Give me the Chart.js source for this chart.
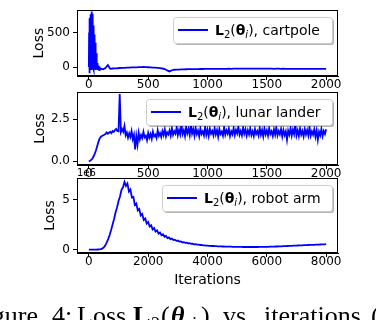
<!DOCTYPE html>
<html>
<head>
<meta charset="utf-8">
<script src="https://cdn.jsdelivr.net/npm/chart.js@4.4.1/dist/chart.umd.min.js"></script>
<style>
  html, body { margin: 0; padding: 0; background: #fff; }
  #lienzo { position: relative; width: 376px; height: 320px; overflow: hidden; }
  #lienzo canvas { position: absolute; left: 0; top: 0; }
  .cap { position: absolute; top: 303px; font-family: "Liberation Serif", serif; font-size: 26px; line-height: 26px; white-space: nowrap; color: #000; }
  .cap.sub { font-size: 18px; top: 311px; }
</style>
</head>
<body>
<div id="lienzo">
  <canvas id="c1" width="376" height="320"></canvas>
  <canvas id="c2" width="376" height="320"></canvas>
  <canvas id="c3" width="376" height="320"></canvas>
  <span class="cap" style="right:338px">Figure</span>
  <span class="cap" style="left:52px">4:</span>
  <span class="cap" style="left:77px">Loss</span>
  <span class="cap" style="left:133px"><b>L</b></span>
  <span class="cap sub" style="left:151px">2</span>
  <span class="cap" style="left:161px">(</span>
  <span class="cap" style="left:171px"><b><i>θ</i></b></span>
  <span class="cap sub" style="left:191px"><i>i</i></span>
  <span class="cap" style="left:201px">)</span>
  <span class="cap" style="left:223px">vs.</span>
  <span class="cap" style="left:264px">iterations</span>
  <span class="cap" style="left:371px">(</span>
</div>
<script>
// Pérdida de cartpole, iteraciones 0..98 cada 2
const cartpoleInicio = [
  0, 500, -90, 700, -50, 710, -20, 690, 30, 760,
  -30, 790, 60, 800, -10, 770, 120, 700, 0, 600,
  -30, 540, 40, 470, -20, 420, 60, 350, -40, 260,
  30, 200, -30, 120, -20, 60, 30, -40, 40, -30,
  20, -35, 10, -30, -5, -35, 5, -30, -10, -25
];
// Pérdida de cartpole, iteraciones 100..2000 cada 20
const cartpoleResto = [
  -20, -32, -12, 30, -24, -20, -17, -16, -13, -12,
  -10, -8, -7, -5, -4, -3, -1, 1, 2, 0,
  -2, -4, -6, -8, -11, -15, -20, -28, -48, -62,
  -45, -38, -36, -35, -33, -32, -31, -30, -30, -29,
  -28, -28, -27, -27, -26, -26, -25, -26, -25, -24,
  -25, -24, -24, -25, -23, -24, -23, -22, -23, -22,
  -22, -23, -21, -22, -22, -21, -22, -23, -22, -22,
  -23, -22, -23, -24, -23, -22, -24, -23, -24, -25,
  -24, -25, -24, -26, -25, -24, -25, -26, -25, -24,
  -25, -26, -25, -24, -25, -24
];
// Pérdida de lunar lander, iteraciones 0..2000 cada 10
const lunarLander = [
  0.00, 0.03, 0.08, 0.17, 0.30, 0.46, 0.66, 0.90, 1.14, 1.35,
  1.45, 1.50, 1.55, 1.58, 1.62, 1.72, 1.64, 1.70, 1.76, 1.67,
  1.80, 1.75, 1.86, 1.92, 1.80, 1.78, 4.00, 1.74, 1.92, 1.76,
  2.10, 1.55, 1.72, 1.40, 1.66, 1.45, 1.80, 1.32, 1.58, 0.70,
  1.50, 1.00, 1.70, 1.30, 1.56, 1.38, 1.75, 1.42, 1.52, 1.25,
  1.68, 1.40, 1.62, 1.34, 1.76, 1.48, 1.58, 1.38, 1.85, 1.52,
  1.68, 1.44, 1.80, 1.56, 1.90, 1.48, 1.72, 1.60, 1.84, 1.52,
  1.96, 1.58, 1.78, 1.64, 2.02, 1.55, 1.86, 1.60, 2.22, 1.62,
  1.84, 1.50, 2.06, 1.66, 1.92, 1.56, 2.20, 1.64, 1.90, 1.52,
  2.00, 1.62, 1.82, 1.48, 1.96, 1.62, 1.78, 1.54, 2.04, 1.58,
  1.88, 1.50, 1.94, 1.64, 1.80, 1.54, 1.98, 1.60, 1.86, 1.46,
  1.92, 1.62, 1.76, 1.52, 2.02, 1.58, 1.84, 1.64, 1.95, 1.50,
  1.78, 1.60, 1.97, 1.55, 1.86, 1.66, 2.06, 1.58, 1.80, 1.54,
  2.00, 1.64, 1.90, 1.52, 1.84, 1.60, 1.96, 1.55, 1.78, 1.50,
  1.92, 1.62, 1.80, 1.54, 1.98, 1.58, 1.86, 1.48, 1.95, 1.60,
  1.84, 1.52, 1.96, 1.62, 1.78, 1.50, 1.90, 1.58, 2.02, 1.54,
  1.80, 1.60, 1.92, 1.48, 1.86, 1.56, 1.78, 1.28, 1.82, 1.58,
  1.96, 1.52, 1.88, 1.62, 2.18, 1.54, 1.84, 1.50, 1.95, 1.58,
  1.80, 1.48, 1.92, 1.60, 1.86, 1.54, 2.02, 1.52, 1.78, 1.58,
  1.90, 1.46, 1.84, 1.28, 1.76, 1.54, 1.92, 1.50, 1.80, 1.62,
  1.90
];
// Pérdida de robot arm (x1e6), iteraciones 0..8000 cada 50
const robotArm = [
  0, 0, 0, 0, 0, 0, 0.01, 0.02, 0.05, 0.10,
  0.20, 0.40, 0.70, 1.05, 1.45, 1.95, 2.50, 3.05, 3.70, 4.20,
  4.85, 5.30, 5.95, 6.20, 6.75, 6.35, 6.60, 5.80, 6.00, 5.20,
  5.25, 4.45, 4.60, 3.90, 4.05, 3.40, 3.55, 2.95, 3.10, 2.60,
  2.75, 2.30, 2.42, 2.02, 2.15, 1.80, 1.92, 1.60, 1.70, 1.43,
  1.52, 1.28, 1.36, 1.15, 1.22, 1.04, 1.10, 0.95, 0.99, 0.87,
  0.90, 0.80, 0.82, 0.73, 0.75, 0.67, 0.69, 0.62, 0.63, 0.57,
  0.58, 0.53, 0.54, 0.49, 0.50, 0.46, 0.46, 0.43, 0.43, 0.40,
  0.40, 0.38, 0.38, 0.36, 0.36, 0.34, 0.34, 0.33, 0.33, 0.32,
  0.31, 0.31, 0.30, 0.30, 0.29, 0.29, 0.29, 0.28, 0.28, 0.28,
  0.27, 0.27, 0.27, 0.27, 0.26, 0.26, 0.26, 0.26, 0.26, 0.26,
  0.26, 0.26, 0.26, 0.26, 0.26, 0.27, 0.27, 0.27, 0.27, 0.28,
  0.28, 0.28, 0.29, 0.29, 0.30, 0.30, 0.31, 0.31, 0.32, 0.33,
  0.33, 0.34, 0.35, 0.35, 0.36, 0.37, 0.38, 0.38, 0.39, 0.40,
  0.40, 0.41, 0.42, 0.43, 0.43, 0.44, 0.45, 0.45, 0.46, 0.47,
  0.47, 0.48, 0.48, 0.49, 0.50, 0.50, 0.51, 0.52, 0.52, 0.53,
  0.54
];

// Marcas de los ejes
const ticksX1 = [0, 500, 1000, 1500, 2000];
const ticksX3 = [0, 2000, 4000, 6000, 8000];
const ticksY1 = [0, 500];
const ticksY2 = [0, 2.5];
const ticksY3 = [0, 5];
const nombres = ['cartpole', 'lunar lander', 'robot arm'];

Chart.defaults.font.family = '"DejaVu Sans"';
Chart.defaults.color = '#000';

// Convierte una lista de valores en puntos {x, y}
function puntos(valores, inicio, paso) {
  return valores.map((v, i) => ({ x: inicio + i * paso, y: v }));
}

// Dibuja una etiqueta tipo mathtext: L2(θi), nombre
function dibujarEtiqueta(ctx, x, y, nombre) {
  const partes = [
    { t: 'L', f: 'bold 14px "DejaVu Sans"', dy: 0 },
    { t: '2', f: '10px "DejaVu Sans"', dy: 3 },
    { t: '(', f: '14px "DejaVu Sans"', dy: 0 },
    { t: 'θ', f: 'bold 14px "DejaVu Sans"', dy: 0 },
    { t: 'i', f: 'italic 10px "DejaVu Sans"', dy: 3 },
    { t: ')', f: '14px "DejaVu Sans"', dy: 0 },
    { t: ', ' + nombre, f: '14px "DejaVu Sans"', dy: 0 }
  ];
  ctx.textBaseline = 'alphabetic';
  ctx.textAlign = 'left';
  ctx.fillStyle = '#000';
  partes.forEach(p => {
    ctx.font = p.f;
    ctx.fillText(p.t, x, y + p.dy);
    x += ctx.measureText(p.t).width;
  });
}

// Marco completo, leyenda con sombra y texto de desplazamiento
const marcoPlugin = {
  id: 'marco',
  afterDraw(chart, args, opts) {
    const { ctx, chartArea: a } = chart;
    ctx.save();
    ctx.strokeStyle = '#000';
    ctx.lineWidth = 1;
    ctx.strokeRect(Math.round(a.left) + 0.5, Math.round(a.top) + 0.5,
      Math.round(a.right - a.left) - 1, Math.round(a.bottom - a.top) - 1);

    const bx = opts.leyendaX, by = Math.round(a.top) + 7, bw = Math.round(a.right) - 6 - opts.leyendaX, bh = 26;
    ctx.fillStyle = 'rgba(0,0,0,0.3)';
    ctx.beginPath();
    ctx.roundRect(bx + 2, by + 2, bw, bh, 3);
    ctx.fill();
    ctx.fillStyle = '#fff';
    ctx.strokeStyle = '#cccccc';
    ctx.beginPath();
    ctx.roundRect(bx + 0.5, by + 0.5, bw, bh, 3);
    ctx.fill();
    ctx.stroke();

    ctx.strokeStyle = '#0000ff';
    ctx.lineWidth = 2;
    ctx.beginPath();
    ctx.moveTo(bx + 5, by + bh / 2);
    ctx.lineTo(bx + 35, by + bh / 2);
    ctx.stroke();
    dibujarEtiqueta(ctx, bx + 42, by + bh / 2 + 5, opts.nombre);

    if (opts.offset) {
      ctx.font = '10px "DejaVu Sans"';
      ctx.fillStyle = '#000';
      ctx.textAlign = 'left';
      ctx.textBaseline = 'alphabetic';
      ctx.fillText(opts.offset, a.left, a.top - 2);
    }
    ctx.restore();
  }
};

function crearPanel(id, cfg) {
  return new Chart(document.getElementById(id), {
    type: 'line',
    data: {
      datasets: [{
        data: cfg.datos,
        borderColor: '#0000ff',
        borderWidth: 1.8,
        pointRadius: 0,
        tension: 0,
        fill: false
      }]
    },
    options: {
      responsive: false,
      animation: false,
      devicePixelRatio: 1,
      events: [],
      layout: { padding: { left: 0, right: 38, top: cfg.arriba, bottom: cfg.abajo } },
      plugins: {
        legend: { display: false },
        tooltip: { enabled: false },
        marco: { nombre: cfg.nombre, leyendaX: cfg.leyendaX, offset: cfg.offset }
      },
      scales: {
        x: {
          type: 'linear',
          min: cfg.xMin,
          max: cfg.xMax,
          afterBuildTicks: s => { s.ticks = cfg.ticksX.map(v => ({ value: v })); },
          afterFit: s => { s.height = cfg.altoX; },
          grid: { drawOnChartArea: false, drawTicks: true, tickLength: 4, color: '#000' },
          border: { display: true, color: '#000', width: 1 },
          ticks: { font: { size: 12 }, color: '#000', padding: -2, maxRotation: 0, autoSkip: false, callback: v => String(v) },
          title: cfg.tituloX
            ? { display: true, text: cfg.tituloX, font: { size: 14 }, color: '#000', padding: { top: 0, bottom: 4.5 } }
            : { display: false }
        },
        y: {
          min: cfg.yMin,
          max: cfg.yMax,
          afterBuildTicks: s => { s.ticks = cfg.ticksY.map(v => ({ value: v })); },
          afterFit: s => { s.width = 77; },
          grid: { drawOnChartArea: false, drawTicks: true, tickLength: 4, color: '#000' },
          border: { display: true, color: '#000', width: 1 },
          ticks: { font: { size: 12 }, color: '#000', padding: 3, callback: cfg.formatoY },
          title: { display: true, text: 'Loss', font: { size: 14 }, color: '#000', padding: { top: cfg.tituloY, bottom: 0 } }
        }
      }
    },
    plugins: [marcoPlugin]
  });
}

const datosCartpole = puntos(cartpoleInicio, 0, 2).concat(puntos(cartpoleResto, 100, 20));

crearPanel('c1', {
  datos: datosCartpole, nombre: nombres[0], leyendaX: 173,
  arriba: 2, abajo: 224, altoX: 20,
  xMin: -100, xMax: 2100, yMin: -128, yMax: 820,
  ticksX: ticksX1, ticksY: ticksY1, formatoY: v => String(v), tituloY: 30.5
});
crearPanel('c2', {
  datos: puntos(lunarLander, 0, 10), nombre: nombres[1], leyendaX: 146,
  arriba: 92, abajo: 135, altoX: 20,
  xMin: -100, xMax: 2100, yMin: -0.22, yMax: 4.12,
  ticksX: ticksX1, ticksY: ticksY2, formatoY: v => v.toFixed(1), tituloY: 31.5
});
crearPanel('c3', {
  datos: puntos(robotArm, 0, 50), nombre: nombres[2], leyendaX: 162, offset: '1e6',
  arriba: 178, abajo: 27, altoX: 40, tituloX: 'Iterations',
  xMin: -400, xMax: 8400, yMin: -0.34, yMax: 7.14,
  ticksX: ticksX3, ticksY: ticksY3, formatoY: v => String(v), tituloY: 41.5
});
</script>
</body>
</html>
